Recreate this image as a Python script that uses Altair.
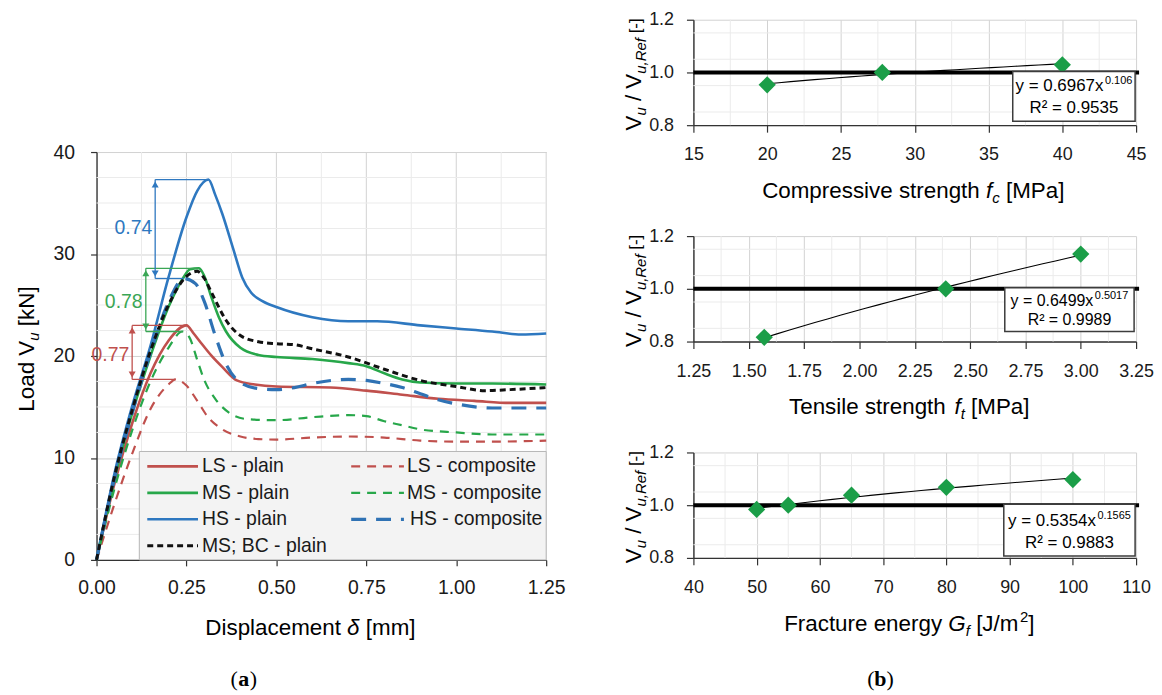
import altair as alt
import pandas as pd

# ---------------------------------------------------------------- data (a)
LS_plain_d = [0.0, 0.05, 0.10, 0.15, 0.20, 0.25, 0.27, 0.29, 0.32, 0.35, 0.39, 0.44, 0.50, 0.65, 0.75, 0.85, 0.95, 1.05, 1.15, 1.25]
LS_plain_V = [0.0, 7.5, 13.5, 18.3, 21.5, 23.0, 22.2, 21.3, 20.0, 18.9, 17.6, 17.2, 17.0, 16.9, 16.6, 16.2, 15.8, 15.6, 15.4, 15.4]

MS_plain_d = [0.0, 0.05, 0.10, 0.15, 0.20, 0.24, 0.26, 0.285, 0.30, 0.32, 0.34, 0.36, 0.40, 0.45, 0.50, 0.60, 0.70, 0.75, 0.80, 0.85, 0.90, 1.00, 1.10, 1.25]
MS_plain_V = [0.0, 8.0, 14.5, 20.0, 24.8, 27.6, 28.5, 28.6, 27.8, 25.7, 23.8, 22.4, 20.8, 20.1, 19.9, 19.7, 19.3, 19.0, 18.3, 17.7, 17.4, 17.3, 17.3, 17.2]

HS_plain_d = [0.0, 0.05, 0.10, 0.15, 0.20, 0.25, 0.28, 0.311, 0.33, 0.35, 0.38, 0.405, 0.43, 0.46, 0.50, 0.60, 0.70, 0.78, 0.90, 1.00, 1.10, 1.18, 1.25]
HS_plain_V = [0.0, 8.5, 15.2, 21.0, 27.7, 33.6, 36.2, 37.3, 35.8, 33.9, 30.5, 27.7, 26.2, 25.4, 24.8, 23.8, 23.4, 23.4, 23.0, 22.7, 22.4, 22.1, 22.2]

BC_plain_d = [0.0, 0.05, 0.10, 0.15, 0.20, 0.25, 0.28, 0.30, 0.32, 0.36, 0.40, 0.45, 0.50, 0.55, 0.60, 0.70, 0.80, 0.90, 1.00, 1.08, 1.15, 1.25]
BC_plain_V = [0.0, 8.2, 14.8, 20.5, 25.0, 27.8, 28.3, 27.6, 26.2, 23.5, 22.0, 21.4, 21.2, 21.1, 20.7, 19.9, 18.7, 17.6, 17.0, 16.6, 16.7, 16.9]

LS_comp_d = [0.0, 0.05, 0.10, 0.15, 0.20, 0.22, 0.25, 0.28, 0.31, 0.35, 0.40, 0.45, 0.50, 0.60, 0.70, 0.80, 0.90, 1.00, 1.10, 1.25]
LS_comp_V = [0.0, 5.5, 10.5, 14.8, 17.2, 17.7, 17.1, 15.6, 14.0, 12.8, 12.1, 11.85, 11.8, 12.0, 12.1, 12.0, 11.7, 11.6, 11.6, 11.7]

MS_comp_d = [0.0, 0.05, 0.10, 0.15, 0.20, 0.239, 0.26, 0.28, 0.30, 0.33, 0.37, 0.42, 0.50, 0.60, 0.70, 0.75, 0.80, 0.85, 0.90, 1.00, 1.10, 1.25]
MS_comp_V = [0.0, 7.0, 12.8, 17.5, 20.8, 22.4, 21.7, 19.6, 17.6, 15.8, 14.4, 13.8, 13.7, 14.0, 14.2, 14.1, 13.6, 13.2, 12.8, 12.5, 12.3, 12.3]

HS_comp_d = [0.0, 0.05, 0.10, 0.15, 0.20, 0.243, 0.275, 0.30, 0.33, 0.36, 0.40, 0.45, 0.50, 0.55, 0.60, 0.70, 0.75, 0.80, 0.85, 0.90, 0.95, 1.00, 1.10, 1.25]
HS_comp_V = [0.0, 8.0, 14.5, 20.3, 25.3, 27.6, 27.1, 25.3, 22.0, 19.2, 17.4, 16.8, 16.7, 16.9, 17.3, 17.7, 17.6, 17.3, 16.9, 16.3, 15.7, 15.3, 14.9, 14.9]

series_names = ["LS - plain", "LS - composite", "MS - plain", "MS - composite",
                "HS - plain", "HS - composite", "MS; BC - plain"]
series_d = [LS_plain_d, LS_comp_d, MS_plain_d, MS_comp_d, HS_plain_d, HS_comp_d, BC_plain_d]
series_V = [LS_plain_V, LS_comp_V, MS_plain_V, MS_comp_V, HS_plain_V, HS_comp_V, BC_plain_V]

# annotation arrows: ratio composite / plain peak
ann_labels = ["0.74", "0.78", "0.77"]
ann_arrow_d = [0.163, 0.137, 0.099]
ann_top_V = [37.3, 28.6, 23.0]
ann_bot_V = [27.6, 22.4, 17.7]
ann_top_end_d = [0.311, 0.285, 0.25]
ann_bot_end_d = [0.243, 0.239, 0.22]
ann_text_d = [0.155, 0.128, 0.091]
ann_text_V = [32.5, 25.3, 20.1]

# ---------------------------------------------------------------- data (b)
fc_x = [20.0, 27.8, 40.0]
fc_y = [0.953, 1.0, 1.029]
ft_x = [1.57, 2.39, 3.0]
ft_y = [0.816, 1.0, 1.132]
gf_x = [50.0, 55.0, 65.0, 80.0, 100.0]
gf_y = [0.984, 1.0, 1.038, 1.068, 1.097]
eq_main = ["y = 0.6967x", "y = 0.6499x", "y = 0.5354x"]
eq_exp = ["0.106", "0.5017", "0.1565"]
eq_r2 = ["R² = 0.9535", "R² = 0.9989", "R² = 0.9883"]

# ---------------------------------------------------------------- styles
FONT = "Liberation Sans, Arial, sans-serif"
SERIF = "Liberation Serif, Times New Roman, serif"
NARROW = 1.0
TITLE, SUB = 22.5, 15
RED, GREEN, BLUE, BLUE2, BLACK = "#c0504d", "#27a74a", "#2e78c0", "#2f72b4", "#111111"
series_colors = [RED, RED, GREEN, GREEN, BLUE, BLUE2, BLACK]
series_dash = [None, [9, 7], None, [9, 7], None, [15, 10], [6, 4]]
series_width = [2.6, 2.2, 2.6, 2.2, 2.6, 3.2, 3.0]
draw_order = [0, 2, 4, 1, 3, 5, 6]
ann_colors = [BLUE, "#3aa655", RED]
MAJOR_C, MINOR_C, AXIS_C, LABEL_C = "#d2d2d2", "#ebebeb", "#333333", "#1a1a1a"
DIAMOND = "#1b9e48"

WID = {' ': 278, '(': 333, ')': 333, ',': 278, '-': 333, '.': 278, '/': 278, ';': 278, '=': 584,
       '[': 278, ']': 278, '²': 333, 'δ': 556,
       'A': 667, 'B': 667, 'C': 722, 'D': 722, 'E': 667, 'F': 611, 'G': 778, 'H': 722, 'I': 278,
       'J': 500, 'K': 667, 'L': 556, 'M': 833, 'N': 722, 'O': 778, 'P': 667, 'R': 722, 'S': 667,
       'T': 611, 'V': 667, 'a': 556, 'b': 556, 'c': 500, 'd': 556, 'e': 556, 'f': 278, 'g': 556,
       'h': 556, 'i': 222, 'j': 222, 'k': 500, 'l': 222, 'm': 833, 'n': 556, 'o': 556, 'p': 556,
       'r': 333, 's': 500, 't': 278, 'u': 556, 'v': 500, 'x': 500, 'y': 500}


def tw(s, size):
    return sum(WID.get(c, 556) for c in s) / 1000.0 * size * NARROW


def text_mark(s, x, y, size, color="black", align="left", baseline="alphabetic",
              angle=0, italic=False, bold=False, font=FONT):
    kw = dict(align=align, baseline=baseline, fontSize=size, font=font, color=color)
    if angle:
        kw["angle"] = angle
    if italic:
        kw["fontStyle"] = "italic"
    if bold:
        kw["fontWeight"] = "bold"
    return alt.Chart(pd.DataFrame({"t": [s]})).mark_text(**kw).encode(
        x=alt.value(x), y=alt.value(y), text="t:N")


def htitle(pieces, cx, y):
    gap = lambda dy: 1.5 if dy < 0 else 0.0
    total = sum(tw(p[0], p[1]) + gap(p[3]) for p in pieces)
    x = cx - total / 2
    out = []
    for s, size, ital, dy in pieces:
        x += gap(dy)
        lead = len(s) - len(s.lstrip())
        out.append(text_mark(s.strip(), x + tw(s[:lead], size), y + dy, size, italic=ital))
        x += tw(s, size)
    return out


def vtitle(pieces, xb, cy):
    total = sum(tw(p[0], p[1]) for p in pieces)
    y = cy + total / 2
    out = []
    for s, size, ital, dx in pieces:
        lead = len(s) - len(s.lstrip())
        out.append(text_mark(s.strip(), xb + dx, y - tw(s[:lead], size), size,
                             angle=270, italic=ital))
        y -= tw(s, size)
    return out


def make_axis(values, fmt, size, tick, pad, grid=True):
    return alt.Axis(values=values, format=fmt, title=None, grid=grid, gridColor=MAJOR_C,
                    gridWidth=1, domainColor=AXIS_C, domainWidth=1.4, tickColor=AXIS_C,
                    tickWidth=1.2, tickSize=tick, labelFont=FONT, labelFontSize=size,
                    labelColor=LABEL_C, labelPadding=pad, labelFlush=False,
                    labelOverlap=False, labelBound=False)


def minor_rules(vals, ch, scale, axis, color=MINOR_C, y0=None, y1=None):
    if ch == "x":
        enc = {"x": alt.X("v:Q", scale=scale, axis=axis)}
        if y0 is not None:
            enc["y"] = alt.value(y0)
            enc["y2"] = alt.value(y1)
    else:
        enc = {"y": alt.Y("v:Q", scale=scale, axis=axis)}
    return alt.Chart(pd.DataFrame({"v": vals})).mark_rule(color=color, strokeWidth=1).encode(**enc)


# ================================================================ panel (a)
WL, HL, OFF = 452, 410, 133     # OFF: plot area starts lower than the right column
xsL = alt.Scale(domain=[0, 1.25], nice=False, zero=False)
ysL = alt.Scale(domain=[0, 40], nice=False, zero=False, range=[HL + OFF, OFF])
axL_x = make_axis([0, 0.25, 0.5, 0.75, 1.0, 1.25], ".2f", 19.5, 6, 13, grid=False)
axL_y = make_axis([0, 10, 20, 30, 40], "d", 19.5, 6, 16)

layersL = [
    # invisible anchor at the page's top-left corner
    alt.Chart(pd.DataFrame({"a": [0]})).mark_rect(opacity=0).encode(
        x=alt.value(-89), x2=alt.value(-88), y=alt.value(-10), y2=alt.value(-9)),
    minor_rules([0.125, 0.375, 0.625, 0.875, 1.125], "x", xsL, axL_x, y0=OFF, y1=OFF + HL),
    minor_rules([0.25, 0.5, 0.75, 1.0, 1.25], "x", xsL, axL_x, color=MAJOR_C, y0=OFF, y1=OFF + HL),
    minor_rules([2.5, 5, 7.5, 12.5, 15, 17.5, 22.5, 25, 27.5, 32.5, 35, 37.5], "y", ysL, axL_y),
]
for k in draw_order:
    df = pd.DataFrame({"d": series_d[k], "V": series_V[k], "i": list(range(len(series_d[k])))})
    kw = dict(color=series_colors[k], strokeWidth=series_width[k], interpolate="monotone")
    if series_dash[k]:
        kw["strokeDash"] = series_dash[k]
    layersL.append(alt.Chart(df).mark_line(**kw).encode(
        x=alt.X("d:Q", scale=xsL, axis=axL_x), y=alt.Y("V:Q", scale=ysL, axis=axL_y),
        order="i:Q"))

ann = pd.DataFrame({"ax": ann_arrow_d, "top": ann_top_V, "bot": ann_bot_V,
                    "te": ann_top_end_d, "be": ann_bot_end_d, "lab": ann_labels,
                    "tx": ann_text_d, "ty": ann_text_V, "col": ann_colors})
col_enc = alt.Color("col:N", scale=None)
base_ann = alt.Chart(ann)
AX = alt.X("ax:Q", scale=xsL, axis=axL_x)
layersL += [
    base_ann.mark_rule(strokeWidth=1.3).encode(x=AX, x2="te:Q",
                                               y=alt.Y("top:Q", scale=ysL, axis=axL_y), color=col_enc),
    base_ann.mark_rule(strokeWidth=1.3).encode(x=AX, x2="be:Q",
                                               y=alt.Y("bot:Q", scale=ysL, axis=axL_y), color=col_enc),
    base_ann.mark_rule(strokeWidth=1.3).encode(x=AX, y=alt.Y("top:Q", scale=ysL, axis=axL_y),
                                               y2="bot:Q", color=col_enc),
    base_ann.mark_point(shape="triangle-up", filled=True, size=50, opacity=1, yOffset=5).encode(
        x=AX, y=alt.Y("top:Q", scale=ysL, axis=axL_y), color=col_enc),
    base_ann.mark_point(shape="triangle-down", filled=True, size=50, opacity=1, yOffset=-5).encode(
        x=AX, y=alt.Y("bot:Q", scale=ysL, axis=axL_y), color=col_enc),
    base_ann.mark_text(align="right", baseline="middle", fontSize=19.5, font=FONT).encode(
        x=alt.X("tx:Q", scale=xsL, axis=axL_x), y=alt.Y("ty:Q", scale=ysL, axis=axL_y),
        text="lab:N", color=col_enc),
]

# legend box (manual, two columns)
layersL.append(alt.Chart(pd.DataFrame({"a": [0]})).mark_rect(
    fill="#f3f3f3", stroke="#b5b5b5", strokeWidth=1).encode(
    x=alt.value(43), x2=alt.value(WL), y=alt.value(OFF + 301), y2=alt.value(OFF + HL)))
leg_cols = [(51, 102, 106), (256, 309, 312)]
for k in range(len(series_names)):
    c = leg_cols[k % 2]
    yy = OFF + 316 + 26.6 * (k // 2)
    kw = dict(color=series_colors[k], strokeWidth=series_width[k])
    if series_dash[k]:
        kw["strokeDash"] = series_dash[k]
    layersL.append(alt.Chart(pd.DataFrame({"a": [0]})).mark_rule(**kw).encode(
        x=alt.value(c[0]), x2=alt.value(c[1]), y=alt.value(yy)))
    layersL.append(text_mark(series_names[k], c[2] + (3 if k == 5 else 0), yy, 19.5,
                             color="#1a1a1a", baseline="middle"))

layersL += htitle([("Displacement ", TITLE, False, 0), ("δ", TITLE, True, 0),
                   (" [mm]", TITLE, False, 0)], 215, OFF + 485)
layersL += vtitle([("Load V", TITLE, False, 0), ("u", SUB, True, 5), (" [kN]", TITLE, False, 0)],
                  -63, OFF + 198)
# caption (a)
layersL += [text_mark("(", 142, OFF + 537, 22, align="right", font=SERIF),
            text_mark("a", 148, OFF + 537, 22, align="center", bold=True, font=SERIF),
            text_mark(")", 154, OFF + 537, 22, align="left", font=SERIF)]

left = alt.layer(*layersL).properties(width=WL, height=HL + OFF)

# ================================================================ panel (b)
WR, HR = 445, 106
ysR = alt.Scale(domain=[0.8, 1.2], nice=False, zero=False)
axR_y = make_axis([0.8, 0.9, 1.0, 1.1, 1.2], ".1f", 18, 7, 13)


def right_panel(xs_dom, x_major, x_minor, fmt, px, py, k, box, eq_y, r2_y, title_pieces, title_cx,
                eq_size=17, extra=None):
    xs = alt.Scale(domain=xs_dom, nice=False, zero=False)
    ax = make_axis(x_major, fmt, 18, 7, 14)
    pts = pd.DataFrame({"x": px, "y": py})
    L = [minor_rules(x_minor, "x", xs, ax),
         minor_rules([0.85, 0.95, 1.05, 1.15], "y", ysR, axR_y),
         alt.Chart(pd.DataFrame({"a": [0]})).mark_rule(color="black", strokeWidth=4).encode(
             x=alt.value(0), x2=alt.value(WR + 3), y=alt.datum(1.0, scale=ysR)),
         alt.Chart(pts).transform_regression("x", "y", method="pow").mark_line(
             color="black", strokeWidth=1.1).encode(
             x=alt.X("x:Q", scale=xs, axis=ax), y=alt.Y("y:Q", scale=ysR, axis=axR_y)),
         alt.Chart(pts).mark_point(shape="diamond", filled=True, size=300, opacity=1,
                                   color=DIAMOND).encode(
             x=alt.X("x:Q", scale=xs, axis=ax), y=alt.Y("y:Q", scale=ysR, axis=axR_y)),
         alt.Chart(pd.DataFrame({"a": [0]})).mark_rect(fill="white", stroke="#3c3c3c",
                                                       strokeWidth=1.5).encode(
             x=alt.value(box[0]), x2=alt.value(box[1]), y=alt.value(box[2]), y2=alt.value(box[3])),
         ]
    bcx = (box[0] + box[1]) / 2
    L += htitle([(eq_main[k], eq_size, False, 0), (eq_exp[k], 11, False, -7)], bcx, eq_y)
    L.append(text_mark(eq_r2[k], bcx, r2_y, eq_size, align="center"))
    L += htitle(title_pieces, title_cx, HR + 73)
    L += vtitle([("V", TITLE, False, 0), ("u", SUB, True, 5), (" / V", TITLE, False, 0),
                 ("u,Ref", SUB, True, 5), (" [-]", 17, False, 0)], -53, 55)
    if extra:
        L += extra
    return alt.layer(*L).properties(width=WR, height=HR)


top = right_panel([15, 45], [15, 20, 25, 30, 35, 40, 45], [17.5, 22.5, 27.5, 32.5, 37.5, 42.5], "d",
                  fc_x, fc_y, 0, (321, 444, 52, 102), 72, 94,
                  [("Compressive strength ", TITLE, False, 0), ("f", TITLE, True, 0),
                   ("c", SUB, True, 5), (" [MPa]", TITLE, False, 0)], 221)
mid = right_panel([1.25, 3.25], [1.25, 1.5, 1.75, 2.0, 2.25, 2.5, 2.75, 3.0, 3.25],
                  [1.375, 1.625, 1.875, 2.125, 2.375, 2.625, 2.875, 3.125], ".2f",
                  ft_x, ft_y, 1, (313, 443, 52, 96), 70, 89,
                  [("Tensile strength ", TITLE, False, 0), ("f", TITLE, True, 0),
                   ("t", SUB, True, 5), (" [MPa]", TITLE, False, 0)], 217, eq_size=16)
bot = right_panel([40, 110], [40, 50, 60, 70, 80, 90, 100, 110], [45, 55, 65, 75, 85, 95, 105], "d",
                  gf_x, gf_y, 2, (312, 444, 52, 104), 74, 96,
                  [("Fracture energy ", TITLE, False, 0), ("G", TITLE, True, 0), ("f", SUB, True, 5),
                   (" [J/m", TITLE, False, 0), ("2", SUB, False, -9), ("]", TITLE, False, 0)], 217,
                  extra=[text_mark("(", 182, 235, 22, align="right", font=SERIF),
                         text_mark("b", 188, 235, 22, align="center", bold=True, font=SERIF),
                         text_mark(")", 194, 235, 22, align="left", font=SERIF)])

right_col = alt.vconcat(top, mid, bot, spacing=111.5, bounds="flush")
chart = alt.hconcat(left, right_col, spacing=148, bounds="flush").properties(
    padding=0, background="white").configure_view(strokeWidth=0)

chart.save("out.html", embed_options={"renderer": "svg", "actions": False})
